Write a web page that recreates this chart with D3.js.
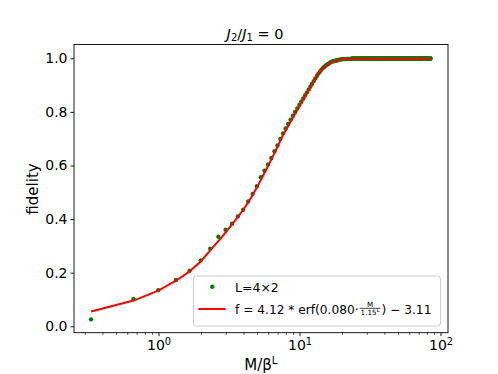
<!DOCTYPE html>
<html><head><meta charset="utf-8">
<script src="https://cdn.jsdelivr.net/npm/d3@7"></script>
<style>body{margin:0;background:#fff} svg{display:block} text{font-family:"DejaVu Sans",sans-serif;fill:#000}</style>
</head><body><svg id="c" width="498" height="374"></svg>
<script>
// ---- data ----
const betaL = 3.01;                       // beta^L, x = M / beta^L
const mValues = d3.range(1, 257);         // M = 1 .. 256
const fidelity = [
0.026,0.102,0.135,0.173,0.207,0.246,0.290,0.334,0.360,0.383,
0.410,0.435,0.466,0.494,0.523,0.556,0.581,0.604,0.628,0.653,
0.675,0.699,0.720,0.738,0.755,0.771,0.786,0.800,0.813,0.826,
0.838,0.850,0.862,0.873,0.884,0.895,0.905,0.915,0.925,0.934,
0.943,0.950,0.957,0.963,0.968,0.972,0.976,0.979,0.982,0.985,
0.987,0.989,0.990,0.991,0.992,0.993,0.994,0.995,0.996,0.996,
0.997,0.997,0.997,0.997,0.998,0.998,0.998,0.998,0.998,0.998,
0.999,0.999,0.999,0.999,0.999,0.999,0.999,0.999,0.999,0.999,0.999,0.999,0.999,0.999,0.999,0.999,0.999,0.999,0.999,0.999,
0.999,0.999,0.999,0.999,0.999,0.999,0.999,0.999,0.999,0.999,0.999,0.999,0.999,0.999,0.999,0.999,0.999,0.999,0.999,0.999,
0.999,0.999,0.999,0.999,0.999,0.999,0.999,0.999,0.999,0.999,0.999,0.999,0.999,0.999,0.999,0.999,0.999,0.999,0.999,0.999,
0.999,0.999,0.999,0.999,0.999,0.999,0.999,0.999,0.999,0.999,0.999,0.999,0.999,0.999,0.999,0.999,0.999,0.999,0.999,0.999,
0.999,0.999,0.999,0.999,0.999,0.999,0.999,0.999,0.999,0.999,0.999,0.999,0.999,0.999,0.999,0.999,0.999,0.999,0.999,0.999,
0.999,0.999,0.999,0.999,0.999,0.999,0.999,0.999,0.999,0.999,0.999,0.999,0.999,0.999,0.999,0.999,0.999,0.999,0.999,0.999,
0.999,0.999,0.999,0.999,0.999,0.999,0.999,0.999,0.999,0.999,0.999,0.999,0.999,0.999,0.999,0.999,0.999,0.999,0.999,0.999,
0.999,0.999,0.999,0.999,0.999,0.999,0.999,0.999,0.999,0.999,0.999,0.999,0.999,0.999,0.999,0.999,0.999,0.999,0.999,0.999,
0.999,0.999,0.999,0.999,0.999,0.999,0.999,0.999,0.999,0.999,0.999,0.999,0.999,0.999,0.999,0.999,0.999,0.999,0.999,0.999,
0.999,0.999,0.999,0.999,0.999,0.999
];
const fitValues = [
0.055,0.096,0.133,0.170,0.205,0.242,0.283,0.318,0.350,0.380,
0.408,0.435,0.462,0.490,0.518,0.546,0.573,0.598,0.623,0.647,
0.670,0.693,0.714,0.731,0.747,0.763,0.778,0.793,0.807,0.821,
0.834,0.846,0.859,0.871,0.882,0.893,0.904,0.915,0.926,0.936,
0.945,0.952,0.957,0.962,0.966,0.970,0.974,0.977,0.980,0.983,
0.985,0.987,0.989,0.990,0.991,0.992,0.993,0.994,0.995,0.996,
0.997,0.997,0.997,0.997,0.997,0.998,0.998,0.998,0.998,0.998,
0.998,0.998,0.998,0.998,0.998,0.998,0.998,0.998,0.998,0.998,0.998,0.998,0.998,0.998,0.998,0.998,0.998,0.998,0.998,0.998,
0.998,0.998,0.998,0.998,0.998,0.998,0.998,0.998,0.998,0.998,0.998,0.998,0.998,0.998,0.998,0.998,0.998,0.998,0.998,0.998,
0.998,0.998,0.998,0.998,0.998,0.998,0.998,0.998,0.998,0.998,0.998,0.998,0.998,0.998,0.998,0.998,0.998,0.998,0.998,0.998,
0.998,0.998,0.998,0.998,0.998,0.998,0.998,0.998,0.998,0.998,0.998,0.998,0.998,0.998,0.998,0.998,0.998,0.998,0.998,0.998,
0.998,0.998,0.998,0.998,0.998,0.998,0.998,0.998,0.998,0.998,0.998,0.998,0.998,0.998,0.998,0.998,0.998,0.998,0.998,0.998,
0.998,0.998,0.998,0.998,0.998,0.998,0.998,0.998,0.998,0.998,0.998,0.998,0.998,0.998,0.998,0.998,0.998,0.998,0.998,0.998,
0.998,0.998,0.998,0.998,0.998,0.998,0.998,0.998,0.998,0.998,0.998,0.998,0.998,0.998,0.998,0.998,0.998,0.998,0.998,0.998,
0.998,0.998,0.998,0.998,0.998,0.998,0.998,0.998,0.998,0.998,0.998,0.998,0.998,0.998,0.998,0.998,0.998,0.998,0.998,0.998,
0.998,0.998,0.998,0.998,0.998,0.998,0.998,0.998,0.998,0.998,0.998,0.998,0.998,0.998,0.998,0.998,0.998,0.998,0.998,0.998,
0.998,0.998,0.998,0.998,0.998,0.998
];
const yTickValues = [0.0, 0.2, 0.4, 0.6, 0.8, 1.0];
const xMajorTicks = [1, 10, 100];
const xMajorExponents = ["0", "1", "2"];
const seriesLabel = "L=4×2";
const fitLabelA = "f = 4.12 * erf(0.080·";
const fitLabelNum = "M";
const fitLabelDen = "1.15";
const fitLabelB = ") − 3.11";
const yLabel = "fidelity";

// ---- layout ----
const L = 74, R = 448, T = 44.5, B = 332.7;
const svg = d3.select("#c");
const x = d3.scaleLog().domain([0.2516, 113]).range([L, R]);
const y = d3.scaleLinear().domain([-0.0239, 1.0515]).range([B, T]);

const pts = mValues.map((m, i) => ({x: m / betaL, f: fidelity[i], g: fitValues[i]}));

// data dots
svg.append("g").selectAll("circle").data(pts).join("circle")
  .attr("cx", d => x(d.x)).attr("cy", d => y(d.f)).attr("r", 2.2).attr("fill", "green");
// fit line
svg.append("path").datum(pts)
  .attr("d", d3.line().x(d => x(d.x)).y(d => y(d.g)))
  .attr("fill", "none").attr("stroke", "red").attr("stroke-width", 2);

// y axis
const yAx = svg.append("g").attr("transform", `translate(${L},0)`)
  .call(d3.axisLeft(y).tickValues(yTickValues).tickFormat(d3.format(".1f")).tickSize(3.5).tickPadding(3));
yAx.select(".domain").remove();
yAx.selectAll("line").attr("stroke", "#000").attr("stroke-width", 0.9);
yAx.selectAll("text").attr("font-family", "DejaVu Sans").attr("font-size", 14).attr("fill", "#000");

// x axis minor
const minor = x.ticks().filter(t => !xMajorTicks.includes(t));
const xMin = svg.append("g").attr("transform", `translate(0,${B})`)
  .call(d3.axisBottom(x).tickValues(minor).tickFormat("").tickSize(2));
xMin.select(".domain").remove();
xMin.selectAll("line").attr("stroke", "#000").attr("stroke-width", 0.7);
// x axis major
const xAx = svg.append("g").attr("transform", `translate(0,${B})`)
  .call(d3.axisBottom(x).tickValues(xMajorTicks).tickFormat("").tickSize(3.5));
xAx.select(".domain").remove();
xAx.selectAll("line").attr("stroke", "#000").attr("stroke-width", 0.9);
xAx.selectAll(".tick").each(function(d, i) {
  const t = d3.select(this).append("text").attr("y", 17.5).attr("text-anchor", "middle")
    .attr("font-size", 14).attr("fill", "#000");
  t.append("tspan").text("10");
  t.append("tspan").attr("font-size", 9.8).attr("dy", -5.5).text(xMajorExponents[i]);
});

// spines
svg.append("rect").attr("x", L).attr("y", T).attr("width", R - L).attr("height", B - T)
  .attr("fill", "none").attr("stroke", "#000").attr("stroke-width", 0.9);

// axis labels
const xl = svg.append("text").attr("x", 261).attr("y", 370).attr("text-anchor", "middle").attr("font-size", 15);
xl.append("tspan").text("M/β");
xl.append("tspan").attr("font-size", 10.5).attr("dy", -6).text("L");
svg.append("text").attr("transform", "translate(38,189) rotate(-90)").attr("text-anchor", "middle")
  .attr("font-size", 15).text(yLabel);

// title J2/J1 = 0
const tt = svg.append("text").attr("x", 255).attr("y", 38.5).attr("text-anchor", "middle").attr("font-size", 14.5);
tt.append("tspan").attr("font-style", "italic").text("J");
tt.append("tspan").attr("font-size", 10).attr("dy", 2.5).text("2");
tt.append("tspan").attr("dy", -2.5).text("/");
tt.append("tspan").attr("font-style", "italic").text("J");
tt.append("tspan").attr("font-size", 10).attr("dy", 2.5).text("1");
tt.append("tspan").attr("dy", -2.5).text(" = 0");

// legend
const lg = svg.append("g");
lg.append("rect").attr("x", 193.5).attr("y", 276).attr("width", 247).attr("height", 50).attr("rx", 3)
  .attr("fill", "#fff").attr("fill-opacity", 0.8).attr("stroke", "#ccc").attr("stroke-width", 1);
lg.append("circle").attr("cx", 212.3).attr("cy", 286.7).attr("r", 2.2).attr("fill", "green");
lg.append("text").attr("x", 235).attr("y", 291.5).attr("font-size", 12.5).text(seriesLabel);
lg.append("line").attr("x1", 198.3).attr("x2", 225.7).attr("y1", 309).attr("y2", 309)
  .attr("stroke", "red").attr("stroke-width", 2);
const ta = lg.append("text").attr("x", 235).attr("y", 313.5).attr("font-size", 12.2).text(fitLabelA);
const wa = ta.node().getComputedTextLength();
const fx = 235 + wa + 1;
const den = lg.append("text").attr("y", 314.5).attr("font-size", 7.2);
den.append("tspan").text(fitLabelDen);
den.append("tspan").attr("font-size", 5.3).attr("dy", -2.5).text("L");
den.attr("x", fx + 1);
const dw = den.node().getComputedTextLength();
lg.append("text").attr("x", fx + 1 + dw / 2).attr("y", 306.5).attr("text-anchor", "middle")
  .attr("font-size", 7.2).text(fitLabelNum);
lg.append("line").attr("x1", fx).attr("x2", fx + dw + 2).attr("y1", 308.3).attr("y2", 308.3)
  .attr("stroke", "#000").attr("stroke-width", 0.7);
lg.append("text").attr("x", fx + dw + 3).attr("y", 313.5).attr("font-size", 12.2).text(fitLabelB);
</script></body></html>
